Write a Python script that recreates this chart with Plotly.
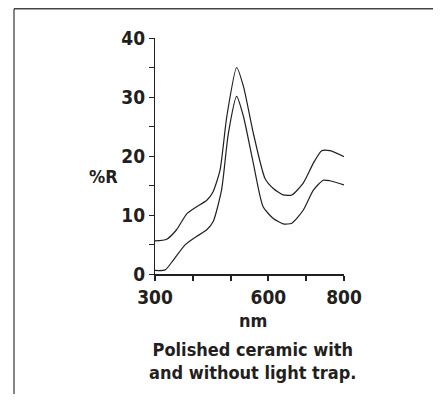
import plotly.graph_objects as go

# Wavelength (nm) and reflectance (%R)
wl_upper = [300, 331, 357, 384, 410, 437, 454, 472, 490, 516, 534, 560, 591, 613, 639, 662, 692, 719, 741, 763, 800]
r_upper = [5.6, 5.9, 7.5, 10.2, 11.4, 12.5, 14.0, 17.6, 26.7, 35.0, 31.8, 23.9, 16.2, 14.5, 13.4, 13.4, 15.4, 18.8, 20.9, 20.9, 19.9]

wl_lower = [300, 327, 349, 379, 406, 437, 454, 476, 494, 516, 534, 560, 586, 613, 639, 662, 692, 719, 745, 763, 800]
r_lower = [0.6, 0.7, 2.4, 4.9, 6.2, 7.5, 8.9, 14.2, 23.8, 30.1, 26.7, 18.8, 11.4, 9.4, 8.5, 8.6, 10.8, 14.2, 15.9, 15.8, 15.1]

x_tickvals = [300, 400, 500, 600, 700, 800]
x_ticktext = ["300", "", "", "600", "", "800"]
y_tickvals = [0, 5, 10, 15, 20, 25, 30, 35, 40]
y_ticktext = ["0", "", "10", "", "20", "", "30", "", "40"]

FONT = "Liberation Sans Narrow, Arial Narrow, DejaVu Sans Condensed, sans-serif"
INK = "#231f20"

fig = go.Figure()
for xs, ys in [(wl_upper, r_upper), (wl_lower, r_lower)]:
    fig.add_trace(go.Scatter(x=xs, y=ys, mode="lines",
                             line=dict(color=INK, width=1.2, shape="spline", smoothing=0.6),
                             showlegend=False, hoverinfo="skip"))

fig.update_layout(
    width=433, height=386,
    margin=dict(l=147, r=97, t=30, b=120),
    paper_bgcolor="white", plot_bgcolor="white",
    font=dict(family=FONT, color=INK),
    xaxis=dict(range=[300, 800], tickvals=x_tickvals, ticktext=x_ticktext,
               ticks="outside", ticklen=5, tickwidth=1.5, tickcolor=INK,
               showline=True, linecolor=INK, linewidth=2, showgrid=False, zeroline=False,
               tickfont=dict(family=FONT, size=19, color=INK, weight="bold")),
    yaxis=dict(range=[0, 40], tickvals=y_tickvals, ticktext=y_ticktext,
               ticks="outside", ticklen=5, tickwidth=1.2, tickcolor=INK,
               showline=True, linecolor=INK, linewidth=1.2, showgrid=False, zeroline=False,
               tickfont=dict(family=FONT, size=19, color=INK, weight="bold")),
    annotations=[
        dict(text="%R", x=-0.275, y=0.415, xref="paper", yref="paper", showarrow=False,
             xanchor="center", yanchor="middle",
             font=dict(family=FONT, size=18, color=INK, weight="bold")),
        dict(text="nm", x=0.519, y=-0.195, xref="paper", yref="paper", showarrow=False,
             xanchor="center", yanchor="middle",
             font=dict(family=FONT, size=18, color=INK, weight="bold")),
        dict(text="Polished ceramic with<br>and without light trap.", x=0.519, y=-0.367,
             xref="paper", yref="paper", showarrow=False, align="center",
             xanchor="center", yanchor="middle",
             font=dict(family=FONT, size=18, color=INK, weight="bold")),
    ],
    shapes=[
        dict(type="line", xref="paper", yref="paper", x0=-0.746, x1=-0.746, y0=1.124, y1=-0.6,
             line=dict(color="#444", width=1.3)),
        dict(type="line", xref="paper", yref="paper", x0=1.492, x1=1.492, y0=1.124, y1=-0.6,
             line=dict(color="#444", width=1.3)),
        dict(type="line", xref="paper", yref="paper", x0=-0.746, x1=1.492, y0=1.124, y1=1.124,
             line=dict(color="#444", width=1.3)),
    ],
)

fig.write_html("out.html")
